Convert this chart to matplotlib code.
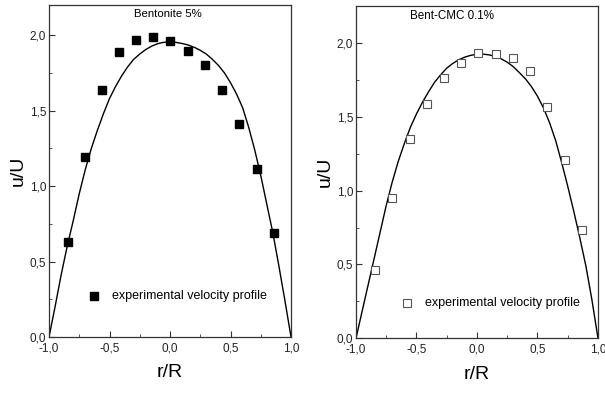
import numpy as np
import matplotlib.pyplot as plt
from matplotlib.ticker import MultipleLocator, FuncFormatter

plt.rcParams['font.family'] = ['Liberation Sans', 'DejaVu Sans']

# Bentonite 5% - experimental points
bent_r = [-0.84, -0.70, -0.56, -0.42, -0.28, -0.14, 0.0, 0.15, 0.29, 0.43, 0.57, 0.72, 0.86]
bent_u = [0.63, 1.19, 1.64, 1.89, 1.965, 1.99, 1.96, 1.895, 1.805, 1.636, 1.41, 1.11, 0.69]
# Bentonite 5% - model curve
bent_fit_r = [-1.0, -0.95, -0.9, -0.85, -0.8, -0.75, -0.7, -0.65, -0.6, -0.55, -0.5,
              -0.45, -0.4, -0.35, -0.3, -0.25, -0.2, -0.15, -0.1, -0.05, 0.0,
              0.05, 0.1, 0.15, 0.2, 0.25, 0.3, 0.35, 0.4, 0.45, 0.5,
              0.55, 0.6, 0.65, 0.7, 0.75, 0.8, 0.85, 0.9, 0.95, 1.0]
bent_fit_u = [0.0, 0.20, 0.41, 0.60, 0.77, 0.95, 1.11, 1.25, 1.37, 1.48, 1.58,
              1.66, 1.73, 1.79, 1.84, 1.875, 1.905, 1.928, 1.944, 1.953, 1.955,
              1.952, 1.945, 1.935, 1.92, 1.90, 1.875, 1.84, 1.80, 1.75, 1.685,
              1.61, 1.52, 1.39, 1.24, 1.07, 0.88, 0.69, 0.47, 0.24, 0.0]

# Bent-CMC 0.1% - experimental points
cmc_r = [-0.84, -0.70, -0.55, -0.415, -0.27, -0.13, 0.01, 0.16, 0.30, 0.44, 0.58, 0.73, 0.87]
cmc_u = [0.46, 0.95, 1.35, 1.59, 1.76, 1.865, 1.93, 1.925, 1.90, 1.81, 1.565, 1.205, 0.735]
# Bent-CMC 0.1% - model curve
cmc_fit_r = [-1.0, -0.95, -0.9, -0.85, -0.8, -0.75, -0.7, -0.65, -0.6, -0.55, -0.5,
             -0.45, -0.4, -0.35, -0.3, -0.25, -0.2, -0.15, -0.1, -0.05, 0.0,
             0.05, 0.1, 0.15, 0.2, 0.25, 0.3, 0.35, 0.4, 0.45, 0.5,
             0.55, 0.6, 0.65, 0.7, 0.75, 0.8, 0.85, 0.9, 0.95, 1.0]
cmc_fit_u = [0.0, 0.18, 0.36, 0.54, 0.72, 0.90, 1.06, 1.20, 1.32, 1.43, 1.52,
             1.60, 1.67, 1.735, 1.785, 1.83, 1.862, 1.887, 1.905, 1.917, 1.924,
             1.925, 1.92, 1.91, 1.893, 1.87, 1.84, 1.80, 1.758, 1.705, 1.64,
             1.56, 1.46, 1.34, 1.19, 1.03, 0.86, 0.68, 0.49, 0.26, 0.0]

comma = FuncFormatter(lambda v, p: ('%.1f' % v).replace('.', ','))

fig = plt.figure(figsize=(6.05, 3.94), dpi=100)
ax1 = fig.add_axes([0.081, 0.1447, 0.400, 0.8426])
ax2 = fig.add_axes([0.5884, 0.1414, 0.400, 0.843])


def style(ax, ymax):
    ax.set_xlim(-1, 1)
    ax.set_ylim(0, ymax)
    ax.xaxis.set_major_locator(MultipleLocator(0.5))
    ax.xaxis.set_minor_locator(MultipleLocator(0.25))
    ax.yaxis.set_major_locator(MultipleLocator(0.5))
    ax.yaxis.set_minor_locator(MultipleLocator(0.25))
    ax.xaxis.set_major_formatter(comma)
    ax.yaxis.set_major_formatter(comma)
    ax.tick_params(which='both', direction='in', top=False, right=False,
                   labelsize=8.5, color='#333333', labelcolor='#222222')
    ax.tick_params(axis='x', which='major', length=4, pad=4)
    ax.tick_params(axis='y', which='major', length=4, pad=2)
    ax.tick_params(which='minor', length=2.5)
    for s in ax.spines.values():
        s.set_color('#333333')
        s.set_linewidth(0.9)
    ax.set_xlabel('r/R', fontsize=14, labelpad=7)
    ax.set_ylabel('u/U', fontsize=14, labelpad=2)


ax1.plot(bent_fit_r, bent_fit_u, color='black', lw=1.0)
ax1.plot(bent_r, bent_u, 's', color='black', ms=5.5, lw=0)
ax1.plot([-0.63], [0.27], 's', color='black', ms=5.5)
ax1.text(-0.48, 0.27, 'experimental velocity profile', fontsize=9, va='center')
ax1.text(-0.02, 2.14, 'Bentonite 5%', fontsize=8.2, ha='center', va='center')
style(ax1, 2.2)

ax2.plot(cmc_fit_r, cmc_fit_u, color='black', lw=1.0)
ax2.plot(cmc_r, cmc_u, 's', mfc='white', mec='#555555', mew=0.8, ms=6, lw=0)
ax2.plot([-0.58], [0.24], 's', mfc='white', mec='#555555', mew=0.8, ms=6)
ax2.text(-0.43, 0.24, 'experimental velocity profile', fontsize=9, va='center')
ax2.text(-0.21, 2.18, 'Bent-CMC 0.1%', fontsize=8.4, ha='center', va='center')
style(ax2, 2.25)

fig.savefig('out.png', dpi=100)
